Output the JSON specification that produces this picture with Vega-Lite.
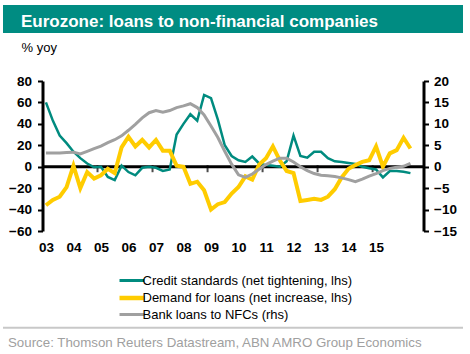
{
  "$schema": "https://vega.github.io/schema/vega-lite/v6.json",
  "padding": {"left": 2, "top": 5, "right": 8, "bottom": 0},
  "background": "white",
  "bounds": "flush",
  "center": true,
  "spacing": 48,
  "datasets": {
    "bls": [
      {"t": 2003.125, "credit": 60, "demand": -36, "loans": 3.2},
      {"t": 2003.375, "credit": 43, "demand": -31, "loans": 3.2},
      {"t": 2003.625, "credit": 29, "demand": -28, "loans": 3.2},
      {"t": 2003.875, "credit": 22, "demand": -19, "loans": 3.3},
      {"t": 2004.125, "credit": 14, "demand": 1, "loans": 3.4},
      {"t": 2004.375, "credit": 8, "demand": -20, "loans": 3.0},
      {"t": 2004.625, "credit": 3, "demand": -5, "loans": 3.6},
      {"t": 2004.875, "credit": -0.5, "demand": -11, "loans": 4.2},
      {"t": 2005.125, "credit": 0, "demand": -8, "loans": 4.8},
      {"t": 2005.375, "credit": -9.5, "demand": -2, "loans": 5.6},
      {"t": 2005.625, "credit": -12.5, "demand": -6, "loans": 6.3},
      {"t": 2005.875, "credit": 1, "demand": 18, "loans": 7.2},
      {"t": 2006.125, "credit": -5, "demand": 28, "loans": 8.5},
      {"t": 2006.375, "credit": -8, "demand": 19, "loans": 9.9},
      {"t": 2006.625, "credit": -1, "demand": 25, "loans": 11.4},
      {"t": 2006.875, "credit": 0, "demand": 18, "loans": 12.6},
      {"t": 2007.125, "credit": -1, "demand": 25, "loans": 13.1},
      {"t": 2007.375, "credit": -4, "demand": 15, "loans": 12.7},
      {"t": 2007.625, "credit": -2.5, "demand": 15, "loans": 13.1},
      {"t": 2007.875, "credit": 30, "demand": 1, "loans": 13.8},
      {"t": 2008.125, "credit": 40, "demand": 0, "loans": 14.2},
      {"t": 2008.375, "credit": 49, "demand": -16, "loans": 14.7},
      {"t": 2008.625, "credit": 43, "demand": -14, "loans": 13.8},
      {"t": 2008.875, "credit": 67, "demand": -22, "loans": 12.1},
      {"t": 2009.125, "credit": 64, "demand": -40, "loans": 9.5},
      {"t": 2009.375, "credit": 44, "demand": -35, "loans": 6.8},
      {"t": 2009.625, "credit": 20, "demand": -33, "loans": 3.6},
      {"t": 2009.875, "credit": 10, "demand": -25, "loans": 0.6},
      {"t": 2010.125, "credit": 6, "demand": -19, "loans": -1.9},
      {"t": 2010.375, "credit": 4.5, "demand": -9, "loans": -2.5},
      {"t": 2010.625, "credit": 9.5, "demand": -12, "loans": -1.7},
      {"t": 2010.875, "credit": 3, "demand": 2, "loans": -0.6},
      {"t": 2011.125, "credit": 1.5, "demand": 8, "loans": 0.5},
      {"t": 2011.375, "credit": 1, "demand": 19, "loans": 1.3},
      {"t": 2011.625, "credit": 0, "demand": 6, "loans": 2.0},
      {"t": 2011.875, "credit": 5, "demand": -4, "loans": 2.0},
      {"t": 2012.125, "credit": 29, "demand": -6, "loans": 1.1},
      {"t": 2012.375, "credit": 10, "demand": -32, "loans": 0},
      {"t": 2012.625, "credit": 8.5, "demand": -31, "loans": -0.9},
      {"t": 2012.875, "credit": 14, "demand": -30, "loans": -1.6},
      {"t": 2013.125, "credit": 14, "demand": -31, "loans": -2.0},
      {"t": 2013.375, "credit": 8, "demand": -28, "loans": -2.1},
      {"t": 2013.625, "credit": 5, "demand": -21, "loans": -2.3},
      {"t": 2013.875, "credit": 4.5, "demand": -10, "loans": -2.6},
      {"t": 2014.125, "credit": 3.5, "demand": -2, "loans": -3.0},
      {"t": 2014.375, "credit": 2.5, "demand": 1.5, "loans": -3.5},
      {"t": 2014.625, "credit": 0, "demand": 4.5, "loans": -2.9},
      {"t": 2014.875, "credit": -1.5, "demand": 6, "loans": -2.2},
      {"t": 2015.125, "credit": -2.5, "demand": 19, "loans": -1.6},
      {"t": 2015.375, "credit": -10, "demand": 0, "loans": -0.9},
      {"t": 2015.625, "credit": -4, "demand": 12.5, "loans": -0.4},
      {"t": 2015.875, "credit": -4, "demand": 15.5, "loans": -0.1},
      {"t": 2016.125, "credit": -4.7, "demand": 27, "loans": 0.1},
      {"t": 2016.375, "credit": -6, "demand": 17, "loans": 0.8}
    ],
    "ticks": [{"yr": 2005}, {"yr": 2007}, {"yr": 2009}, {"yr": 2011}, {"yr": 2013}, {"yr": 2015}]
  },
  "vconcat": [
    {
      "width": 460,
      "height": 28,
      "view": {"fill": "#008C82", "stroke": null},
      "data": {"values": [{"label": "Eurozone: loans to non-financial companies"}]},
      "mark": {"type": "text", "align": "left", "baseline": "alphabetic", "dx": 18, "dy": -6, "fontSize": 17, "fontWeight": "bold", "color": "white", "font": "Liberation Sans"},
      "encoding": {
        "x": {"datum": 0, "type": "quantitative", "scale": {"domain": [0, 1]}, "axis": null},
        "y": {"datum": 0, "type": "quantitative", "scale": {"domain": [0, 1]}, "axis": null},
        "text": {"field": "label"}
      }
    },
    {
      "width": 381,
      "height": 150,
      "data": {"name": "bls"},
      "layer": [
        {
          "layer": [
            {
              "data": {"values": [{"z": 0}]},
              "mark": {"type": "rule", "color": "black", "strokeWidth": 3},
              "encoding": {
                "y": {"field": "z", "type": "quantitative", "scale": {"domain": [-60, 80], "nice": false, "zero": false},
                  "axis": {"orient": "left", "values": [-60, -40, -20, 0, 20, 40, 60, 80], "labelOverlap": false, "title": "% yoy", "titleAngle": 0, "titleAlign": "left", "titleBaseline": "alphabetic", "titleX": -21.5, "titleY": -30, "titleFontSize": 13, "titleFontWeight": "normal", "labelPadding": 6}}
              }
            },
            {
              "data": {"name": "ticks"},
              "mark": {"type": "tick", "orient": "vertical", "size": 7, "thickness": 2, "color": "black", "yOffset": 2},
              "encoding": {
                "x": {"field": "yr", "type": "quantitative", "scale": {"domain": [2003, 2016.85], "nice": false, "zero": false},
                  "axis": {"orient": "bottom", "values": [2003, 2004, 2005, 2006, 2007, 2008, 2009, 2010, 2011, 2012, 2013, 2014, 2015], "labelExpr": "substring(toString(datum.value), 2)", "domain": false, "ticks": false, "labelPadding": 9, "labelOffset": 3.5, "labelFlush": false, "labelOverlap": false, "title": null}},
                "y": {"datum": 0, "type": "quantitative",
                  "axis": {"orient": "left", "values": [-60, -40, -20, 0, 20, 40, 60, 80], "labelOverlap": false, "title": "% yoy", "titleAngle": 0, "titleAlign": "left", "titleBaseline": "alphabetic", "titleX": -21.5, "titleY": -30, "titleFontSize": 13, "titleFontWeight": "normal", "labelPadding": 6}}
              }
            },
            {
              "mark": {"type": "line", "strokeWidth": 2.5},
              "encoding": {
                "x": {"field": "t", "type": "quantitative",
                  "axis": {"orient": "bottom", "values": [2003, 2004, 2005, 2006, 2007, 2008, 2009, 2010, 2011, 2012, 2013, 2014, 2015], "labelExpr": "substring(toString(datum.value), 2)", "domain": false, "ticks": false, "labelPadding": 9, "labelOffset": 3.5, "labelFlush": false, "labelOverlap": false, "title": null}},
                "y": {"field": "credit", "type": "quantitative",
                  "axis": {"orient": "left", "values": [-60, -40, -20, 0, 20, 40, 60, 80], "labelOverlap": false, "title": "% yoy", "titleAngle": 0, "titleAlign": "left", "titleBaseline": "alphabetic", "titleX": -21.5, "titleY": -30, "titleFontSize": 13, "titleFontWeight": "normal", "labelPadding": 6}},
                "color": {
                  "datum": "Credit standards (net tightening, lhs)",
                  "scale": {"domain": ["Credit standards (net tightening, lhs)", "Demand for loans (net increase, lhs)", "Bank loans to NFCs (rhs)"], "range": ["#008B7F", "#FFCC00", "#A0A0A0"]},
                  "legend": {
                    "orient": "none", "legendX": 122.5, "legendY": 269, "title": null, "direction": "vertical",
                    "symbolType": "stroke", "symbolSize": 625, "symbolStrokeWidth": 3,
                    "labelFont": "Liberation Sans", "labelFontSize": 13, "labelColor": "black", "labelOffset": 4, "labelLimit": 400,
                    "rowPadding": 0.5, "padding": 0,
                    "encode": {"symbols": {"update": {"strokeWidth": {"signal": "datum.index === 1 ? 4.5 : 3"}}}}
                  }
                }
              }
            },
            {
              "mark": {"type": "line", "strokeWidth": 4},
              "encoding": {
                "x": {"field": "t", "type": "quantitative",
                  "axis": {"orient": "bottom", "values": [2003, 2004, 2005, 2006, 2007, 2008, 2009, 2010, 2011, 2012, 2013, 2014, 2015], "labelExpr": "substring(toString(datum.value), 2)", "domain": false, "ticks": false, "labelPadding": 9, "labelOffset": 3.5, "labelFlush": false, "labelOverlap": false, "title": null}},
                "y": {"field": "demand", "type": "quantitative",
                  "axis": {"orient": "left", "values": [-60, -40, -20, 0, 20, 40, 60, 80], "labelOverlap": false, "title": "% yoy", "titleAngle": 0, "titleAlign": "left", "titleBaseline": "alphabetic", "titleX": -21.5, "titleY": -30, "titleFontSize": 13, "titleFontWeight": "normal", "labelPadding": 6}},
                "color": {"datum": "Demand for loans (net increase, lhs)"}
              }
            }
          ]
        },
        {
          "mark": {"type": "line", "strokeWidth": 3},
          "encoding": {
            "x": {"field": "t", "type": "quantitative",
              "axis": {"orient": "bottom", "values": [2003, 2004, 2005, 2006, 2007, 2008, 2009, 2010, 2011, 2012, 2013, 2014, 2015], "labelExpr": "substring(toString(datum.value), 2)", "domain": false, "ticks": false, "labelPadding": 9, "labelOffset": 3.5, "labelFlush": false, "labelOverlap": false, "title": null}},
            "y": {"field": "loans", "type": "quantitative", "scale": {"domain": [-15, 20], "nice": false, "zero": false},
              "axis": {"orient": "right", "values": [-15, -10, -5, 0, 5, 10, 15, 20], "labelOverlap": false, "title": null, "labelPadding": 5}},
            "color": {"datum": "Bank loans to NFCs (rhs)"}
          }
        }
      ],
      "resolve": {"scale": {"y": "independent"}}
    },
    {
      "width": 460,
      "height": 75,
      "data": {"values": [{"label": "Source: Thomson Reuters Datastream, ABN AMRO Group Economics"}]},
      "layer": [
        {
          "mark": {"type": "rule", "color": "#C8C8C8", "strokeWidth": 2},
          "encoding": {
            "x": {"datum": 0, "type": "quantitative", "scale": {"domain": [0, 1]}, "axis": null},
            "x2": {"datum": 1},
            "y": {"datum": 52, "type": "quantitative", "scale": {"domain": [75, 0]}, "axis": null}
          }
        },
        {
          "mark": {"type": "text", "align": "left", "baseline": "alphabetic", "dx": 5, "fontSize": 13.3, "color": "#A0A0A0", "font": "Liberation Sans"},
          "encoding": {
            "x": {"datum": 0, "type": "quantitative"},
            "y": {"datum": 72, "type": "quantitative"},
            "text": {"field": "label"}
          }
        }
      ]
    }
  ],
  "config": {
    "font": "Liberation Sans",
    "view": {"stroke": null},
    "axis": {"labelFont": "Liberation Sans", "labelFontSize": 13.5, "labelFontWeight": "bold", "labelColor": "black", "labelOverlap": false, "labelFlush": false, "grid": false, "domainColor": "black", "domainWidth": 3, "tickColor": "black", "tickWidth": 2, "tickSize": 5, "titleFont": "Liberation Sans", "titleColor": "black"}
  }
}
